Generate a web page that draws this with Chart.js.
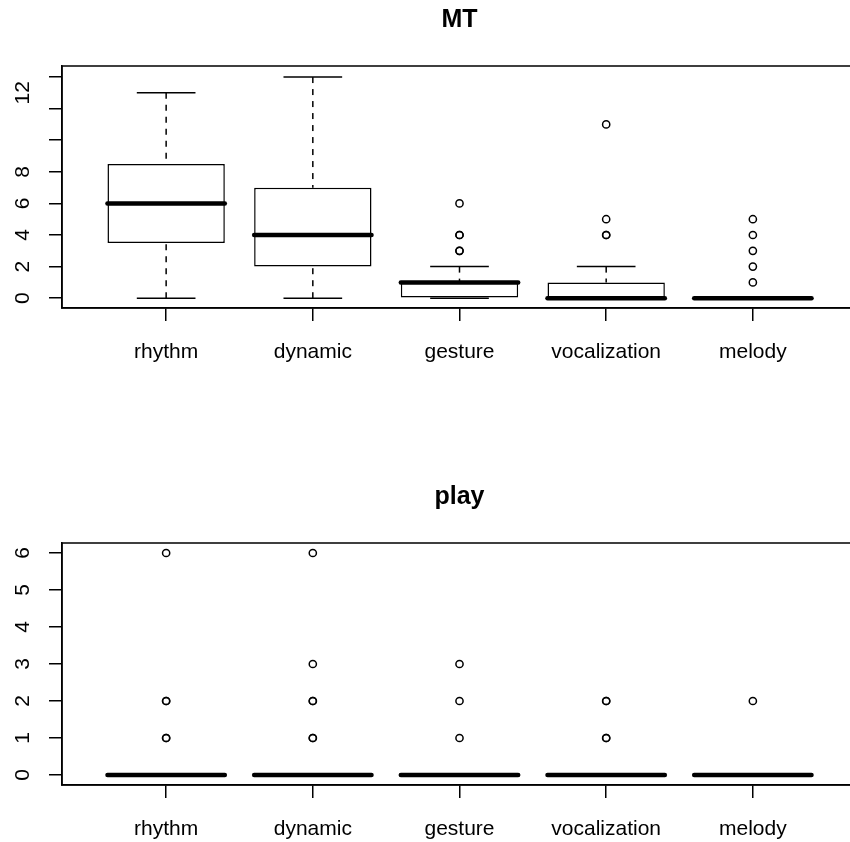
<!DOCTYPE html>
<html><head><meta charset="utf-8">
<script src="https://cdn.jsdelivr.net/npm/chart.js@4.4.1/dist/chart.umd.min.js"></script>
<style>
html,body{margin:0;padding:0;background:#fff;overflow:hidden;width:850px;height:842px;}
#wrap{position:relative;width:850px;height:842px;overflow:hidden;background:#fff;}
canvas{position:absolute;left:0;}
</style></head><body>
<div id="wrap">
<canvas id="c1" width="870" height="421" style="top:0px"></canvas>
<canvas id="c2" width="870" height="421" style="top:421px"></canvas>
</div>
<script>
const categories = ['rhythm', 'dynamic', 'gesture', 'vocalization', 'melody'];

// Panel "MT"
const mtMin    = [0, 0, 0, 0, 0];
const mtQ1     = [3.5, 2, 0, 0, 0];
const mtMedian = [6, 4, 1, 0, 0];
const mtQ3     = [8.5, 7, 1, 1, 0];
const mtMax    = [13, 14, 2, 2, 0];
const mtOutliers = [[], [], [3, 3, 4, 4, 6], [4, 4, 5, 11], [1, 2, 3, 4, 5]];
const mtYTicks = [0, 2, 4, 6, 8, 10, 12, 14];
const mtYLabelText = ['0', '2', '4', '6', '8', '12'];
const mtYLabelAt   = [0, 2, 4, 6, 8, 13];

// Panel "play"
const playMin    = [0, 0, 0, 0, 0];
const playQ1     = [0, 0, 0, 0, 0];
const playMedian = [0, 0, 0, 0, 0];
const playQ3     = [0, 0, 0, 0, 0];
const playMax    = [0, 0, 0, 0, 0];
const playOutliers = [[1, 1, 2, 2, 6], [1, 1, 2, 2, 3, 6], [1, 2, 3], [1, 1, 2, 2], [2]];
const playYTicks = [0, 1, 2, 3, 4, 5, 6];
const playYLabelText = ['0', '1', '2', '3', '4', '5', '6'];
const playYLabelAt   = [0, 1, 2, 3, 4, 5, 6];

const FONT = "'Liberation Sans', Arial, Helvetica, sans-serif";

function makePanel(id, title, cfg) {
  const st = cfg.stats;
  const boxPlugin = {
    id: 'rbox_' + id,
    afterDatasetDraw(chart, args) {
      if (args.index !== 0) return;
      const ctx = chart.ctx, x = chart.scales.x, y = chart.scales.y;
      const unit = Math.abs(x.getPixelForValue(2) - x.getPixelForValue(1));
      const capHalf = unit * 0.2, boxHalf = unit * 0.4;
      const seg = (x1, y1, x2, y2) => { ctx.beginPath(); ctx.moveTo(x1, y1); ctx.lineTo(x2, y2); ctx.stroke(); };
      ctx.save();
      ctx.strokeStyle = '#000';
      categories.forEach((c, i) => {
        const cx = x.getPixelForValue(i + 1);
        const pMin = y.getPixelForValue(st.min[i]);
        const pQ1 = y.getPixelForValue(st.q1[i]);
        const pMed = y.getPixelForValue(st.median[i]);
        const pQ3 = y.getPixelForValue(st.q3[i]);
        const pMax = y.getPixelForValue(st.max[i]);
        ctx.lineWidth = 1.5;
        ctx.lineCap = 'butt';
        ctx.setLineDash([6, 6]);
        if (st.max[i] > st.q3[i]) seg(cx, pMax, cx, pQ3);
        if (st.min[i] < st.q1[i]) seg(cx, pMin, cx, pQ1);
        ctx.setLineDash([]);
        seg(cx - capHalf, pMax, cx + capHalf, pMax);
        seg(cx - capHalf, pMin, cx + capHalf, pMin);
        ctx.lineWidth = 4.5;
        ctx.lineCap = 'round';
        seg(cx - boxHalf, pMed, cx + boxHalf, pMed);
      });
      ctx.restore();
    },
    afterDraw(chart) {
      const ctx = chart.ctx, a = chart.chartArea, y = chart.scales.y;
      ctx.save();
      ctx.strokeStyle = '#000';
      ctx.lineWidth = 1.5;
      ctx.strokeRect(a.left, a.top, a.right - a.left, a.bottom - a.top);
      ctx.fillStyle = '#000';
      ctx.font = '21px ' + FONT;
      ctx.textAlign = 'center';
      ctx.textBaseline = 'alphabetic';
      cfg.yLabelText.forEach((lab, i) => {
        ctx.save();
        ctx.translate(29, y.getPixelForValue(cfg.yLabelAt[i]));
        ctx.rotate(-Math.PI / 2);
        ctx.fillText(lab, 0, 0);
        ctx.restore();
      });
      ctx.restore();
    }
  };

  const boxData = categories.map((c, i) => ({ x: i + 1, y: [st.q1[i], st.q3[i]] }));
  const outData = [];
  cfg.outliers.forEach((arr, i) => arr.forEach(v => outData.push({ x: i + 1, y: v })));

  return new Chart(document.getElementById(id), {
    type: 'bar',
    data: {
      datasets: [
        { type: 'bar', data: boxData, backgroundColor: '#fff', borderColor: '#000', borderWidth: 1.5,
          borderSkipped: false, barPercentage: 0.8, categoryPercentage: 1, order: 2 },
        { type: 'scatter', data: outData, pointRadius: 3.6, pointHoverRadius: 3.6, pointBorderWidth: 1.5,
          borderColor: '#000', backgroundColor: 'rgba(0,0,0,0)', pointBackgroundColor: 'rgba(0,0,0,0)', order: 1 }
      ]
    },
    options: {
      responsive: false, animation: false, devicePixelRatio: 1,
      layout: { padding: { left: 0, right: 13, top: 0, bottom: 0 } },
      plugins: {
        legend: { display: false }, tooltip: { enabled: false },
        title: { display: true, text: title, fullSize: false, color: '#000',
          font: { family: FONT, size: 25, weight: 'bold', lineHeight: 1.2 },
          padding: { top: cfg.titleTop, bottom: 31 } }
      },
      scales: {
        x: {
          type: 'linear', min: 0.29, max: 5.71, offset: false,
          afterBuildTicks: s => { s.ticks = categories.map((c, i) => ({ value: i + 1 })); },
          ticks: { callback: (v, idx) => categories[idx], autoSkip: false, maxRotation: 0, minRotation: 0,
            padding: 19, color: '#000', font: { family: FONT, size: 21 } },
          grid: { display: true, offset: false, drawOnChartArea: false, drawTicks: true, tickLength: 13,
            color: '#000', lineWidth: 1.5 },
          border: { display: true, color: '#000', width: 1.5 },
          afterFit: s => { s.height = cfg.xHeight; }
        },
        y: {
          type: 'linear', min: cfg.yMin, max: cfg.yMax,
          afterBuildTicks: s => { s.ticks = cfg.yTicks.map(v => ({ value: v })); },
          ticks: { display: false },
          grid: { display: true, drawOnChartArea: false, drawTicks: true, tickLength: 13,
            color: '#000', lineWidth: 1.5 },
          border: { display: true, color: '#000', width: 1.5 },
          afterFit: s => { s.width = 62; }
        }
      }
    },
    plugins: [boxPlugin]
  });
}

makePanel('c1', 'MT', {
  stats: { min: mtMin, q1: mtQ1, median: mtMedian, q3: mtQ3, max: mtMax },
  outliers: mtOutliers, yTicks: mtYTicks, yLabelText: mtYLabelText, yLabelAt: mtYLabelAt,
  yMin: -0.62, yMax: 14.7, titleTop: 5, xHeight: 113
});
makePanel('c2', 'play', {
  stats: { min: playMin, q1: playQ1, median: playMedian, q3: playQ3, max: playMax },
  outliers: playOutliers, yTicks: playYTicks, yLabelText: playYLabelText, yLabelAt: playYLabelAt,
  yMin: -0.27, yMax: 6.27, titleTop: 61, xHeight: 57
});
</script>
</body></html>
